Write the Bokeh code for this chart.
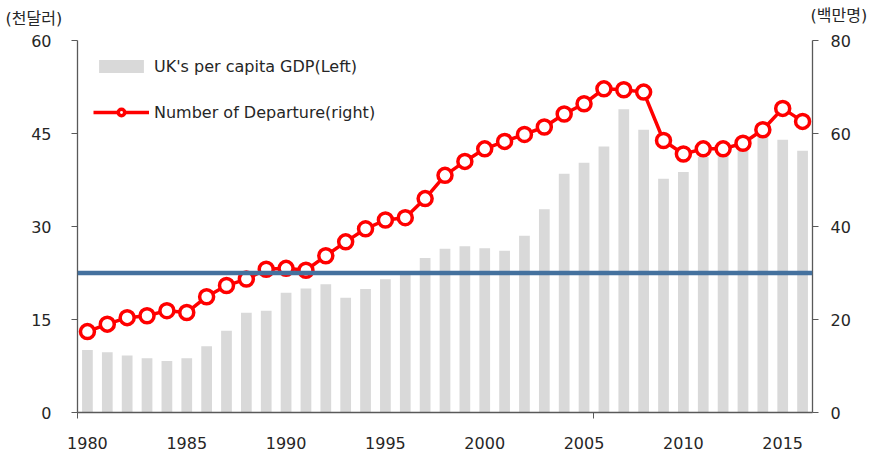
from bokeh.plotting import figure
from bokeh.models import (Range1d, LinearAxis, FixedTicker, Span, Label,
                          Legend, LegendItem, ColumnDataSource)
from bokeh.embed import file_html
from bokeh.resources import INLINE

years = list(range(1980, 2017))
gdp_per_capita = [10.1, 9.7, 9.2, 8.75, 8.3, 8.75, 10.7, 13.2, 16.1, 16.4,
                  19.3, 20.0, 20.7, 18.5, 19.9, 21.5, 22.4, 24.9, 26.4, 26.8,
                  26.5, 26.1, 28.5, 32.8, 38.5, 40.3, 42.9, 48.9, 45.6, 37.7,
                  38.8, 41.2, 41.6, 42.6, 44.7, 44.0, 42.2]
departures = [17.4, 19.0, 20.4, 20.8, 21.9, 21.5, 24.9, 27.3, 28.7, 30.8,
              31.0, 30.6, 33.7, 36.7, 39.5, 41.4, 41.9, 46.0, 51.0, 54.0,
              56.7, 58.3, 59.8, 61.4, 64.2, 66.4, 69.6, 69.4, 68.9, 58.5,
              55.6, 56.7, 56.7, 57.9, 60.8, 65.4, 62.6]
reference_level = 30  # right axis, millions
x_tick_years = [1980, 1985, 1990, 1995, 2000, 2005, 2010, 2015]
left_ticks = [0, 15, 30, 45, 60]
right_ticks = [0, 20, 40, 60, 80]
left_title = "(천달러)"
right_title = "(백만명)"
bar_label = "UK's per capita GDP(Left)"
line_label = "Number of Departure(right)"

FONT = "DejaVu Sans"
KFONT = "DejaVu Sans, 'Noto Sans CJK KR'"
TXT = "#262626"
AX = "#595959"

src = ColumnDataSource(dict(year=years, gdp=gdp_per_capita, dep=departures))

p = figure(width=869, height=453, output_backend="svg", toolbar_location=None,
           x_range=Range1d(years[0] - 0.5, years[-1] + 0.5),
           y_range=Range1d(0, 60),
           min_border_left=77, min_border_right=57,
           min_border_top=40, min_border_bottom=41)
p.extra_y_ranges = {"right": Range1d(0, 80)}
p.outline_line_color = None
p.xgrid.visible = False
p.ygrid.visible = False

bars = p.vbar(x="year", top="gdp", width=0.54, source=src,
              fill_color="#d9d9d9", line_color=None)

span = Span(location=reference_level, dimension="width", y_range_name="right",
            line_color="#44719e", line_width=4.5)
p.add_layout(span)

line = p.line(x="year", y="dep", source=src, y_range_name="right",
              line_color="#ff0000", line_width=3.5)
pts = p.scatter(x="year", y="dep", source=src, y_range_name="right",
                size=14, fill_color="white", line_color="#ff0000", line_width=3.5)

# axes
xa = p.xaxis[0]
xa.ticker = FixedTicker(ticks=x_tick_years, minor_ticks=[1979.5, 2005.5])
xa.major_tick_out = 0
xa.major_tick_in = 0
xa.minor_tick_out = 6
xa.minor_tick_in = 0
xa.minor_tick_line_color = AX
xa.axis_line_color = AX
xa.axis_line_width = 1.3
xa.major_label_standoff = 18
xa.major_label_text_font = FONT
xa.major_label_text_font_size = "16px"
xa.major_label_text_color = TXT

ya = p.yaxis[0]
ya.ticker = FixedTicker(ticks=left_ticks)
ya.minor_tick_line_color = None
ya.major_tick_out = 6
ya.major_tick_in = 0
ya.major_tick_line_color = AX
ya.axis_line_color = AX
ya.axis_line_width = 1.3
ya.major_label_standoff = 20
ya.major_label_text_font = FONT
ya.major_label_text_font_size = "16px"
ya.major_label_text_color = TXT

ra = LinearAxis(y_range_name="right", ticker=FixedTicker(ticks=right_ticks))
ra.minor_tick_line_color = None
ra.major_tick_out = 6
ra.major_tick_in = 0
ra.major_tick_line_color = AX
ra.axis_line_color = AX
ra.axis_line_width = 1.3
ra.major_label_standoff = 12
ra.major_label_text_font = FONT
ra.major_label_text_font_size = "16px"
ra.major_label_text_color = TXT
p.add_layout(ra, "right")

# axis unit titles (placed in the top panel)
p.add_layout(Label(x=-72, y=22, x_units="screen", y_units="screen",
                   text=left_title, text_font=KFONT, text_font_size="16px",
                   text_color=TXT, text_baseline="middle"), "above")
p.add_layout(Label(x=733, y=6, x_units="screen", y_units="screen",
                   text=right_title, text_font=KFONT, text_font_size="16px",
                   text_color=TXT, text_baseline="middle"), "above")

legend = Legend(items=[LegendItem(label=bar_label, renderers=[bars]),
                       LegendItem(label=line_label, renderers=[line, pts])],
                location="top_left", glyph_width=56, glyph_height=16,
                label_height=20, spacing=26, padding=6, margin=16,
                label_standoff=5,
                label_text_font=FONT, label_text_font_size="16px",
                label_text_color=TXT,
                border_line_color=None, background_fill_alpha=0)
p.add_layout(legend)

open("out.html", "w").write(file_html(p, INLINE))
